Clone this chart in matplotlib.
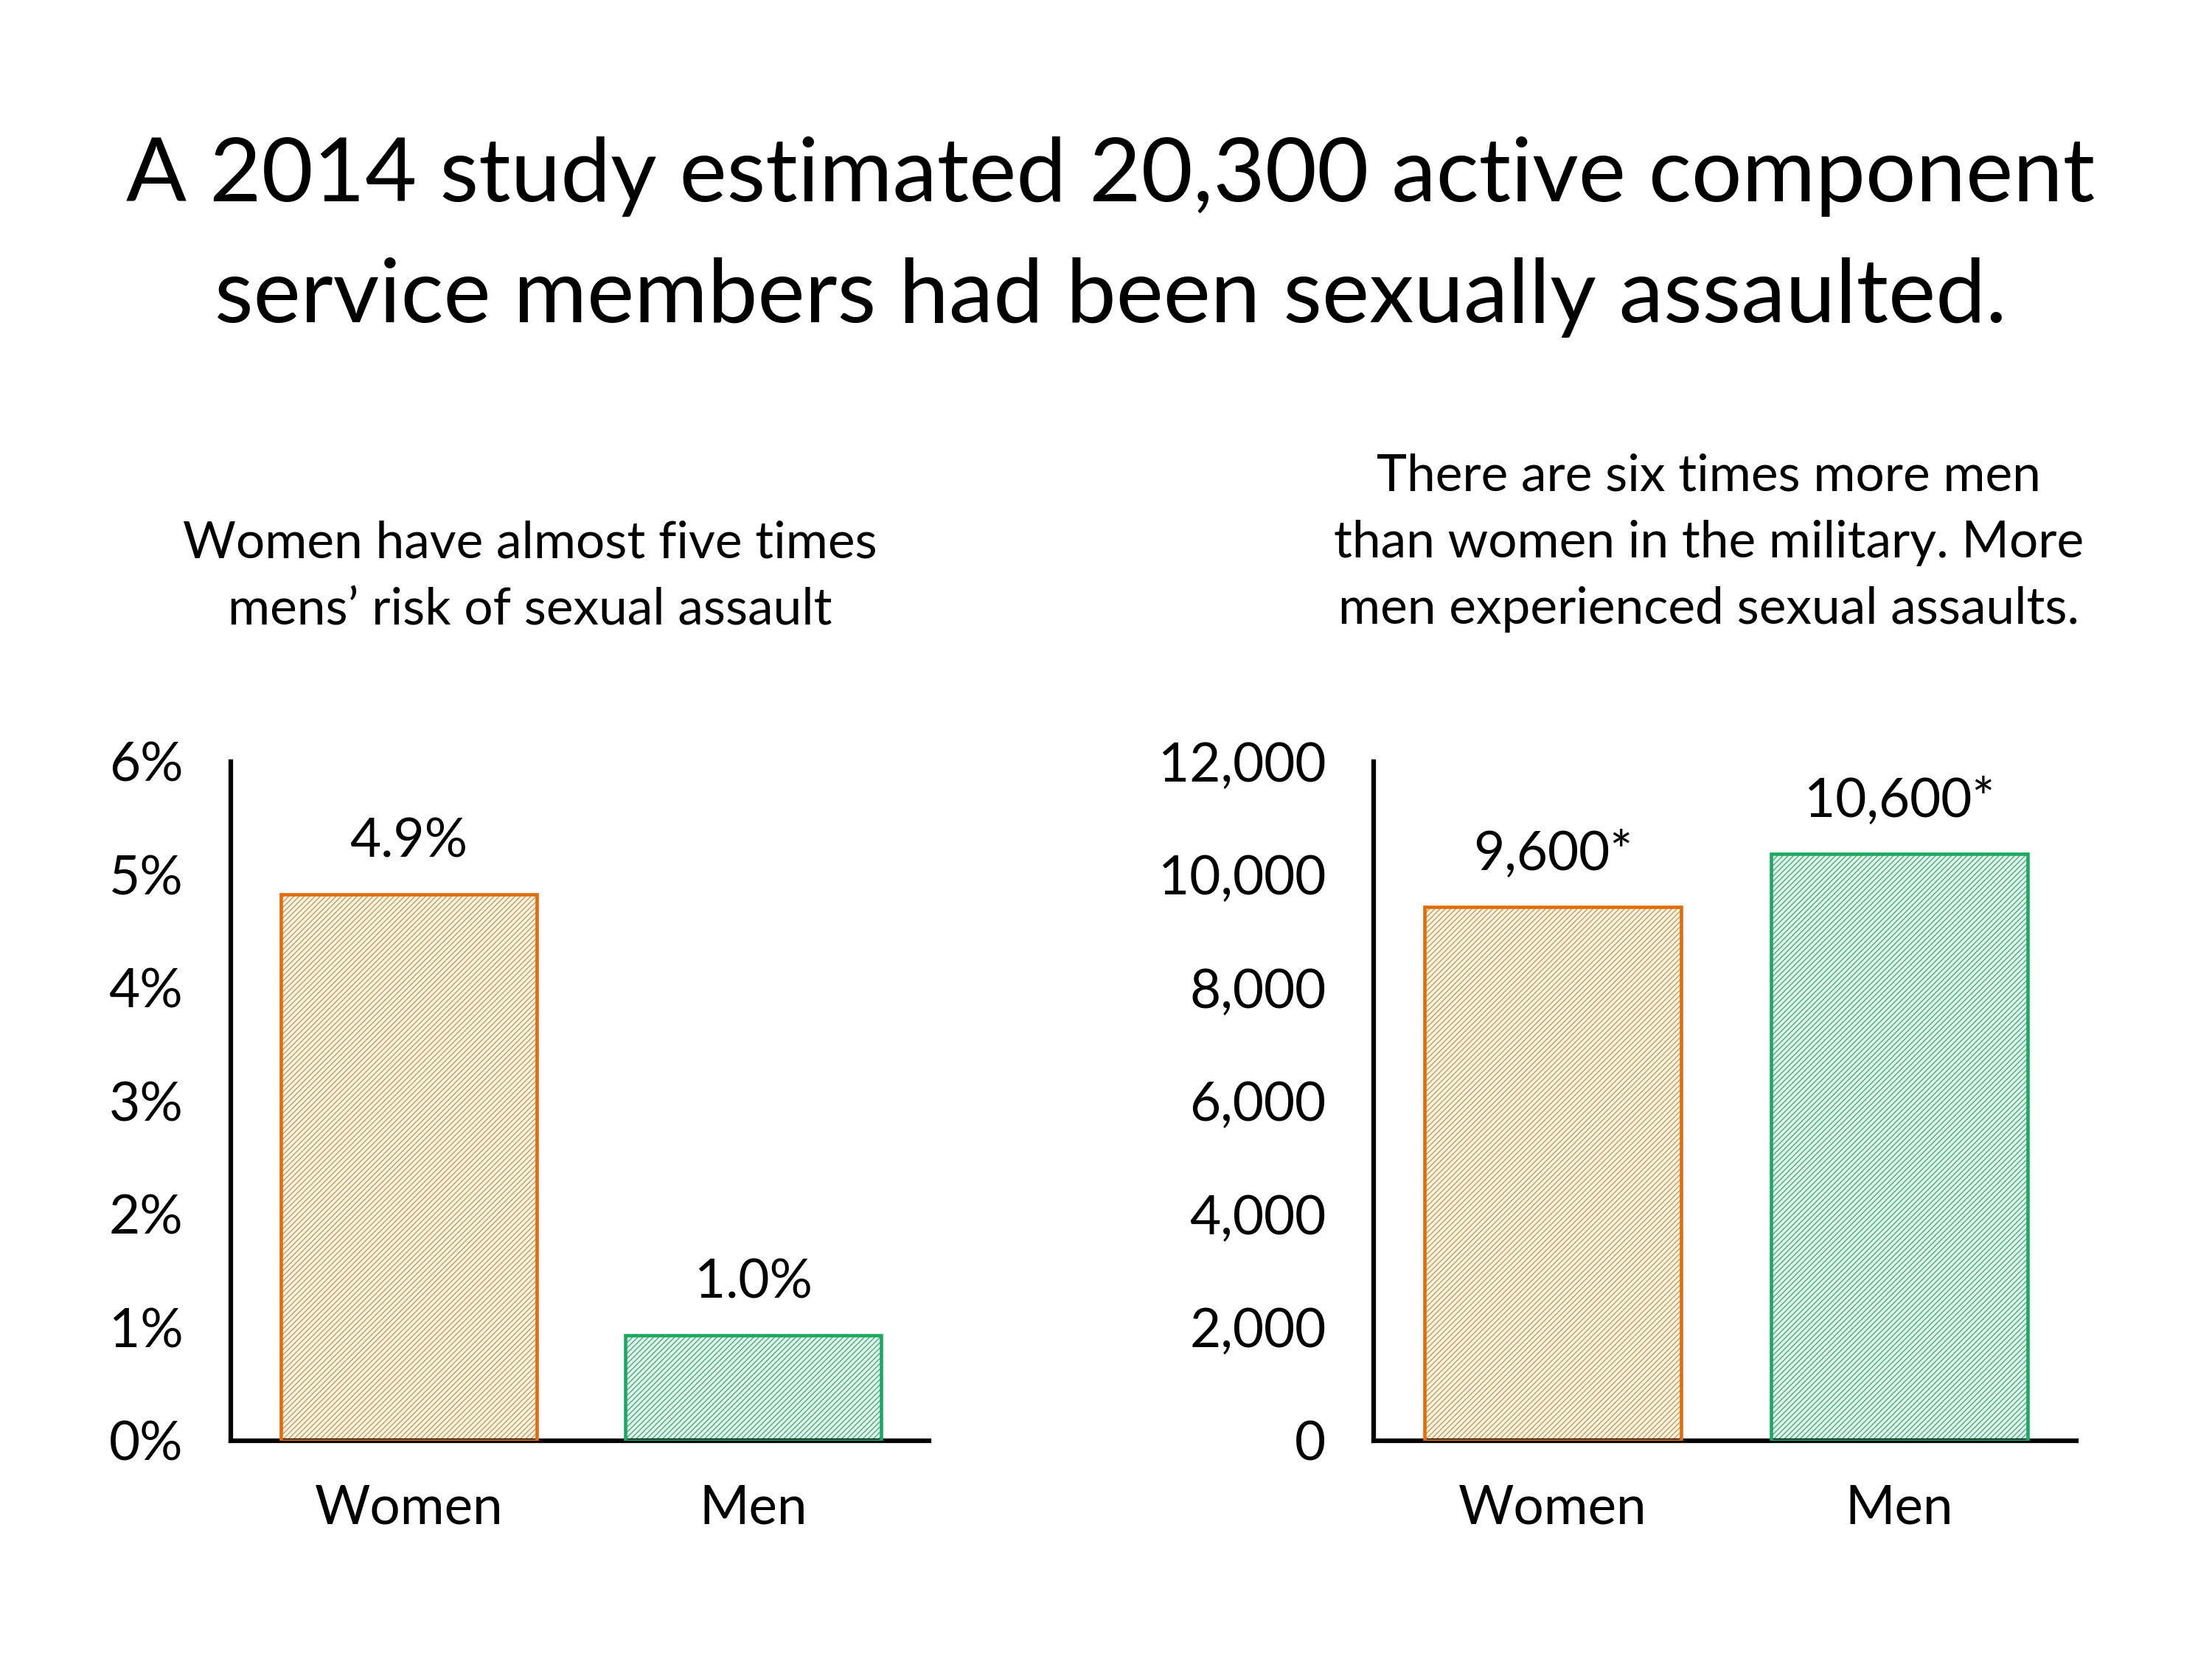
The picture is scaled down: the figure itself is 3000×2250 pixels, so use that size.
import matplotlib
matplotlib.use("Agg")
import matplotlib.pyplot as plt

# data
categories = ['Women', 'Men']
risk_pct = [4.83, 0.93]
risk_labels = ['4.9%', '1.0%']
risk_ticks = [0, 1, 2, 3, 4, 5, 6]
assault_counts = [9430, 10370]
count_labels = ['9,600*', '10,600*']
count_ticks = [0, 2000, 4000, 6000, 8000, 10000, 12000]

title_lines = ['A 2014 study estimated 20,300 active component',
               'service members had been sexually assaulted.']
left_sub = ['Women have almost five times',
            'mens\u2019 risk of sexual assault']
right_sub = ['There are six times more men',
             'than women in the military. More',
             'men experienced sexual assaults.']

face_colors = ['#FDF2DA', '#DCF7EA']
hatch_colors = ['#B8956A', '#4A9E7E']
edge_colors = ['#E36C0A', '#1CA85E']

plt.rcParams['font.family'] = ['Lato', 'DejaVu Sans']
plt.rcParams['hatch.linewidth'] = 0.3

fig = plt.figure(figsize=(10, 7.5), dpi=300)


def draw_panel(ax, values, labels, ticks, fmt):
    x = list(range(len(categories)))
    ax.bar(x, values, width=0.742, color=face_colors, edgecolor=hatch_colors,
           hatch='/' * 14, linewidth=0, zorder=2)
    ax.bar(x, values, width=0.742, fill=False, edgecolor=edge_colors,
           linewidth=1.1, zorder=3)
    for xi, v, lbl in zip(x, values, labels):
        ax.annotate(lbl, (xi, v), xytext=(0, 17), textcoords='offset points',
                    ha='center', va='center', fontsize=17.5)
    ax.set_xlim(-0.517, 1.51)
    ax.set_ylim(ticks[0], ticks[-1])
    ax.set_xticks(x)
    ax.set_xticklabels(categories, fontsize=17.5)
    ax.set_yticks(ticks)
    ax.set_yticklabels([fmt(t) for t in ticks], fontsize=17.5,
                       va='center_baseline')
    ax.tick_params(axis='y', length=0, pad=15.5)
    ax.tick_params(axis='x', length=0, pad=14)
    for side in ('top', 'right'):
        ax.spines[side].set_visible(False)
    for side in ('left', 'bottom'):
        ax.spines[side].set_linewidth(1.5)
        ax.spines[side].set_color('black')
    ax.set_facecolor('none')


ax1 = fig.add_axes([0.1043, 0.1316, 0.3157, 0.4093])
draw_panel(ax1, risk_pct, risk_labels, risk_ticks, lambda t: f'{t}%')

ax2 = fig.add_axes([0.621, 0.1316, 0.3175, 0.4093])
draw_panel(ax2, assault_counts, count_labels, count_ticks, lambda t: f'{t:,}')

# headline
for i, line in enumerate(title_lines):
    fig.text(0.502, 1 - (240 + 164 * i) / 2250, line, ha='center', va='center',
             fontsize=29.1)

# panel captions
for i, line in enumerate(left_sub):
    fig.text(0.2397, 1 - (737 + 90 * i) / 2250, line, ha='center', va='center',
             fontsize=16.7)
for i, line in enumerate(right_sub):
    fig.text(0.7724, 1 - (646 + 90 * i) / 2250, line, ha='center', va='center',
             fontsize=16.7)

fig.savefig('out.png', dpi=300, facecolor='white')
